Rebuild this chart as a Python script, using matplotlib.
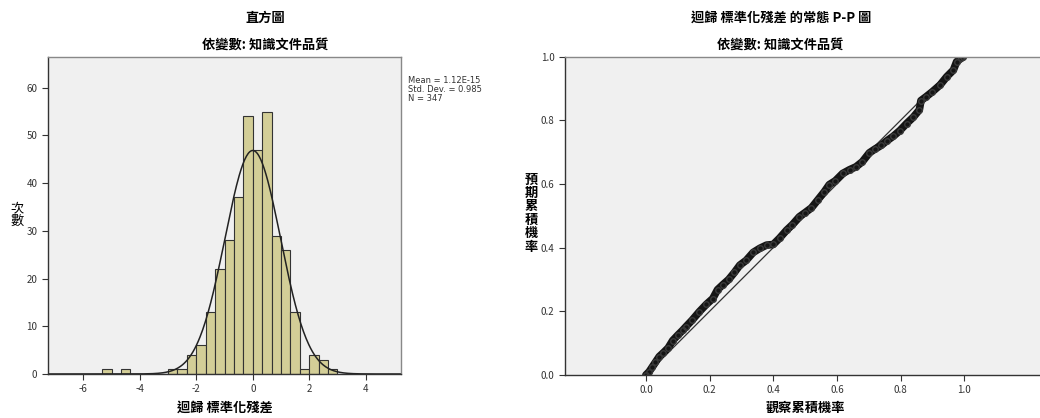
import numpy as np
import matplotlib
matplotlib.use('Agg')
import matplotlib.pyplot as plt

plt.rcParams['font.family'] = ['Noto Sans CJK TC', 'DejaVu Sans']

# 直方圖資料 (組距 1/3)
bin_left = [-16/3, -15/3, -14/3, -13/3, -12/3, -11/3, -10/3, -9/3, -8/3, -7/3,
            -6/3, -5/3, -4/3, -3/3, -2/3, -1/3, 0, 1/3, 2/3, 1, 4/3, 5/3, 2, 7/3, 8/3]
counts = [1, 0, 1, 0, 0, 0, 0, 1, 1, 4,
          6, 13, 22, 28, 37, 54, 47, 55, 29, 26, 13, 1, 4, 3, 1]
bin_w = 1/3
mean_res = 1.12e-15
sd_res = 0.985
n_res = 347

# P-P 圖資料 (觀察累積機率, 預期累積機率)
obs_p = [0.000, 0.010, 0.020, 0.030, 0.042, 0.055, 0.070, 0.084, 0.100, 0.115,
         0.126, 0.145, 0.168, 0.190, 0.210, 0.225, 0.241, 0.260, 0.278, 0.295,
         0.315, 0.337, 0.358, 0.379, 0.400, 0.420, 0.442, 0.460, 0.482, 0.500,
         0.520, 0.540, 0.560, 0.576, 0.595, 0.618, 0.640, 0.660, 0.680, 0.702,
         0.720, 0.740, 0.756, 0.777, 0.798, 0.819, 0.840, 0.859, 0.864, 0.880,
         0.900, 0.924, 0.945, 0.966, 0.976, 0.990, 0.997]
exp_p = [0.000, 0.010, 0.025, 0.040, 0.058, 0.070, 0.085, 0.108, 0.125, 0.140,
         0.152, 0.172, 0.199, 0.222, 0.240, 0.268, 0.283, 0.300, 0.322, 0.345,
         0.360, 0.385, 0.398, 0.408, 0.410, 0.430, 0.455, 0.472, 0.497, 0.510,
         0.525, 0.550, 0.575, 0.598, 0.610, 0.633, 0.645, 0.654, 0.670, 0.698,
         0.710, 0.722, 0.735, 0.750, 0.768, 0.790, 0.810, 0.833, 0.862, 0.874,
         0.890, 0.911, 0.937, 0.958, 0.984, 0.995, 1.000]

bg = '#F0F0F0'
bar_c = '#D3CE97'
tick_c = '#333333'

fig = plt.figure(figsize=(10.4, 4.18), dpi=100)

# ---- 左: 直方圖 ----
ax1 = fig.add_axes([0.0459, 0.1053, 0.3397, 0.759])
ax1.set_facecolor(bg)
ax1.bar(bin_left, counts, width=bin_w, align='edge', color=bar_c,
        edgecolor='#333333', linewidth=0.8)
xs = np.linspace(-7.3, 5.3, 400)
ys = n_res * bin_w * np.exp(-0.5 * ((xs - mean_res) / sd_res) ** 2) / (sd_res * np.sqrt(2 * np.pi))
ax1.plot(xs, ys, color='#222222', lw=1.1)
ax1.set_xlim(-7.26, 5.25)
ax1.set_ylim(0, 66.5)
ax1.set_xticks([-6, -4, -2, 0, 2, 4])
ax1.set_xticklabels(['-6', '-4', '-2', '0', '2', '4'])
ax1.set_yticks([0, 10, 20, 30, 40, 50, 60])
ax1.tick_params(labelsize=7, colors=tick_c, length=4, width=0.8, direction='out')
for s in ax1.spines.values():
    s.set_color('#888888')
    s.set_linewidth(1.0)
ax1.spines['bottom'].set_color('#333333')
ax1.spines['left'].set_color('#333333')

fig.text(0.392, 0.818, 'Mean = 1.12E-15\nStd. Dev. = 0.985\nN = 347',
         fontsize=6, color='#333333', va='top', ha='left', family='DejaVu Sans',
         linespacing=1.0)

fig.text(0.255, 0.958, '直方圖', ha='center', va='center', fontsize=9.5, fontweight='bold')
fig.text(0.255, 0.892, '依變數: 知識文件品質', ha='center', va='center', fontsize=9.5, fontweight='bold')
fig.text(0.016, 0.485, '次\n數', ha='center', va='center', fontsize=9.5, linespacing=1.0)
fig.text(0.216, 0.024, '迴歸 標準化殘差', ha='center', va='center', fontsize=9.5, fontweight='bold')

# ---- 右: P-P 圖 ----
ax2 = fig.add_axes([0.5433, 0.1029, 0.4567, 0.7615])
ax2.set_facecolor(bg)
ax2.plot([0, 1], [0, 1], color='#333333', lw=0.9)
ax2.plot(obs_p, exp_p, '-', color='#151515', lw=5.5, solid_capstyle='round',
         solid_joinstyle='round')
ax2.plot(obs_p, exp_p, 'o', mfc='none', mec='#3a3a3a', ms=4, mew=1.0)
ax2.set_xlim(-0.254, 1.238)
ax2.set_ylim(0, 1)
ax2.set_xticks([0, 0.2, 0.4, 0.6, 0.8, 1.0])
ax2.set_xticklabels(['0.0', '0.2', '0.4', '0.6', '0.8', '1.0'])
ax2.set_yticks([0, 0.2, 0.4, 0.6, 0.8, 1.0])
ax2.set_yticklabels(['0.0', '0.2', '0.4', '0.6', '0.8', '1.0'])
ax2.tick_params(labelsize=7, colors=tick_c, length=4, width=0.8, direction='out')
for s in ax2.spines.values():
    s.set_color('#888888')
    s.set_linewidth(1.0)
ax2.spines['right'].set_visible(False)
ax2.spines['bottom'].set_color('#333333')
ax2.spines['left'].set_color('#333333')

fig.text(0.751, 0.958, '迴歸 標準化殘差 的常態 P-P 圖', ha='center', va='center',
         fontsize=9.5, fontweight='bold')
fig.text(0.750, 0.892, '依變數: 知識文件品質', ha='center', va='center', fontsize=9.5, fontweight='bold')
fig.text(0.511, 0.49, '預\n期\n累\n積\n機\n率', ha='center', va='center', fontsize=9.5,
         linespacing=0.95, fontweight='bold')
fig.text(0.774, 0.024, '觀察累積機率', ha='center', va='center', fontsize=9.5, fontweight='bold')

fig.savefig('out.png', dpi=100)
